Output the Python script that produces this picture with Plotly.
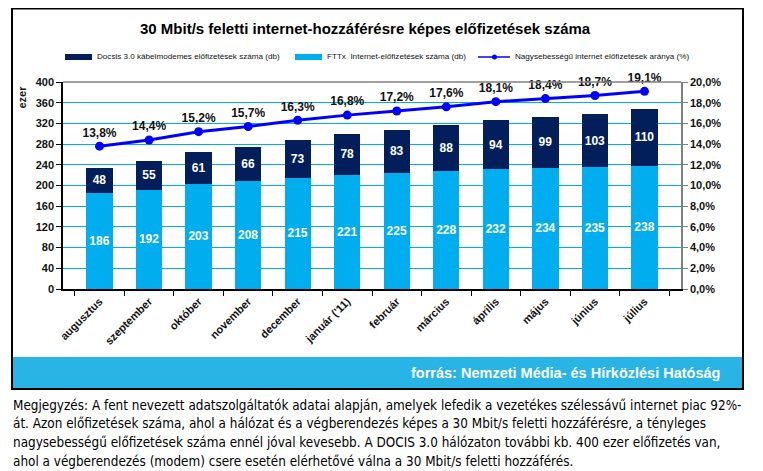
import plotly.graph_objects as go

# page offset of plotly div (default body margin)
OFF = 8
W, H = 763 - OFF, 471 - OFF

months = ["augusztus", "szeptember", "október", "november", "december", "január ('11)",
          "február", "március", "április", "május", "június", "július"]
fttx = [186, 192, 203, 208, 215, 221, 225, 228, 232, 234, 235, 238]
docsis = [48, 55, 61, 66, 73, 78, 83, 88, 94, 99, 103, 110]
ratio = [13.8, 14.4, 15.2, 15.7, 16.3, 16.8, 17.2, 17.6, 18.1, 18.4, 18.7, 19.1]
left_ticks = list(range(0, 401, 40))
right_ticks = [0, 2, 4, 6, 8, 10, 12, 14, 16, 18, 20]

title = "30 Mbit/s feletti internet-hozzáférésre képes előfizetések száma"
leg_docsis = "Docsis 3.0 kábelmodemes előfizetések száma (db)"
leg_fttx = "FTTx  Internet-előfizetések száma (db)"
leg_ratio = "Nagysebességű internet előfizetések aránya (%)"
source = "forrás: Nemzeti Média- és Hírközlési Hatóság"
note_lines = [
    "Megjegyzés: A fent nevezett adatszolgáltatók adatai alapján, amelyek lefedik a vezetékes szélessávű internet piac 92%-",
    "át. Azon előfizetések száma, ahol a hálózat és a végberendezés képes a 30 Mbit/s feletti hozzáférésre, a tényleges",
    "nagysebességű előfizetések száma ennél jóval kevesebb. A DOCIS 3.0 hálózaton további kb. 400 ezer előfizetés van,",
    "ahol a végberendezés (modem) csere esetén elérhetővé válna a 30 Mbit/s feletti hozzáférés.",
]

NAVY = "#021F5C"
CYAN = "#00AEEF"
LINE = "#0000FF"
FONT = "Liberation Sans, Arial, sans-serif"


def px(x):
    return (x - OFF) / W


def py(y):
    return 1 - (y - OFF) / H


def fmt_pct(v):
    return f"{v:.1f}".replace(".", ",") + "%"


fig = go.Figure()
fig.add_trace(go.Bar(
    x=months, y=fttx, marker=dict(color=CYAN, line=dict(width=0)),
    text=[str(v) for v in fttx], textposition="inside", insidetextanchor="middle", textangle=0,
    textfont=dict(color="white", size=12, family=FONT, weight="bold"),
    constraintext="none", showlegend=False, width=0.53,
))
fig.add_trace(go.Bar(
    x=months, y=docsis, marker=dict(color=NAVY, line=dict(width=0)),
    text=[str(v) for v in docsis], textposition="inside", insidetextanchor="middle", textangle=0,
    textfont=dict(color="white", size=12, family=FONT, weight="bold"),
    constraintext="none", showlegend=False, width=0.53,
))
fig.add_trace(go.Scatter(
    x=months, y=[r / 100 for r in ratio], yaxis="y2", mode="lines+markers+text",
    line=dict(color=LINE, width=3), marker=dict(color=LINE, size=9),
    text=[fmt_pct(r) for r in ratio], textposition="top center",
    textfont=dict(color="#111111", size=12, family=FONT, weight="bold"),
    showlegend=False, cliponaxis=False,
))

x0, x1 = 63, 681
ytop, ybot = 82, 289

fig.update_layout(
    width=W, height=H, margin=dict(l=0, r=0, t=0, b=0, autoexpand=False),
    paper_bgcolor="white", plot_bgcolor="white",
    barmode="stack", bargap=0.47,
    font=dict(family=FONT, color="#111111"),
    xaxis=dict(domain=[px(x0), px(x1)], showline=True, linecolor="black", linewidth=1.5,
               ticks="outside", tickson="boundaries", ticklen=5, tickcolor="black",
               tickangle=-45, tickfont=dict(size=11, family=FONT, weight="bold", color="#111111"),
               showgrid=False, fixedrange=True, automargin=False),
    yaxis=dict(domain=[py(ybot), py(ytop)], range=[0, 400], tickvals=left_ticks,
               showgrid=True, gridcolor=CYAN, gridwidth=1,
               showline=True, linecolor="black", linewidth=1.5, ticks="outside", ticklen=5,
               tickcolor="black", tickfont=dict(size=11, family=FONT, weight="bold", color="#111111"),
               zeroline=False, automargin=False),
    yaxis2=dict(overlaying="y", side="right", range=[0, 0.2],
                tickvals=[t / 100 for t in right_ticks],
                ticktext=[fmt_pct(t) for t in right_ticks],
                showgrid=False, showline=True, linecolor="#808080", linewidth=1.5,
                ticks="outside", ticklen=5, tickcolor="#808080",
                tickfont=dict(size=11, family=FONT, weight="bold", color="#111111"),
                zeroline=False, automargin=False),
)

shapes = []
shapes.append(dict(type="line", xref="paper", yref="paper", x0=px(x0), x1=px(x1),
                   y0=py(ytop), y1=py(ytop), line=dict(color="#808080", width=1.5)))
shapes.append(dict(type="rect", xref="paper", yref="paper", x0=px(12), x1=px(743),
                   y0=py(389), y1=py(357), fillcolor="#29B4E6", line=dict(width=0), layer="below"))
shapes.append(dict(type="rect", xref="paper", yref="paper", x0=px(12), x1=px(743),
                   y0=py(389), y1=py(8.5), line=dict(color="black", width=2)))
shapes.append(dict(type="rect", xref="paper", yref="paper", x0=px(65), x1=px(92),
                   y0=py(60), y1=py(54), fillcolor=NAVY, line=dict(width=0)))
shapes.append(dict(type="rect", xref="paper", yref="paper", x0=px(295), x1=px(322),
                   y0=py(60), y1=py(54), fillcolor=CYAN, line=dict(width=0)))
shapes.append(dict(type="line", xref="paper", yref="paper", x0=px(478), x1=px(510),
                   y0=py(57), y1=py(57), line=dict(color=LINE, width=1.5)))
shapes.append(dict(type="circle", xref="paper", yref="paper", x0=px(492), x1=px(497),
                   y0=py(59.5), y1=py(54.5), fillcolor=LINE, line=dict(color=LINE, width=0)))
fig.update_layout(shapes=shapes)

ann = []
ann.append(dict(text=f"<b>{title}</b>", x=px(365), y=py(28), xref="paper", yref="paper",
                showarrow=False, xanchor="center", yanchor="middle",
                font=dict(size=15, family=FONT, color="black")))
for xx, t in [(95, leg_docsis), (325, leg_fttx), (513, leg_ratio)]:
    ann.append(dict(text=t, x=px(xx), y=py(57), xref="paper", yref="paper", showarrow=False,
                    xanchor="left", yanchor="middle", font=dict(size=8.1, family=FONT, color="#111111")))
ann.append(dict(text="<b>ezer</b>", x=px(22), y=py(84), xref="paper", yref="paper",
                showarrow=False, textangle=-90, xanchor="center", yanchor="top",
                font=dict(size=11, family=FONT, color="#111111")))
ann.append(dict(text=f"<b>{source}</b>", x=px(722), y=py(373), xref="paper", yref="paper",
                showarrow=False, xanchor="right", yanchor="middle",
                font=dict(size=14.5, family=FONT, color="white")))
for i, line in enumerate(note_lines):
    ann.append(dict(text=line, x=px(11), y=py(405 + 18.7 * i), xref="paper", yref="paper",
                    showarrow=False, xanchor="left", yanchor="middle", align="left",
                    font=dict(size=13.4, family="DejaVu Sans Condensed, Liberation Sans, sans-serif",
                              color="black")))
fig.update_layout(annotations=ann)

fig.write_html("out.html")
